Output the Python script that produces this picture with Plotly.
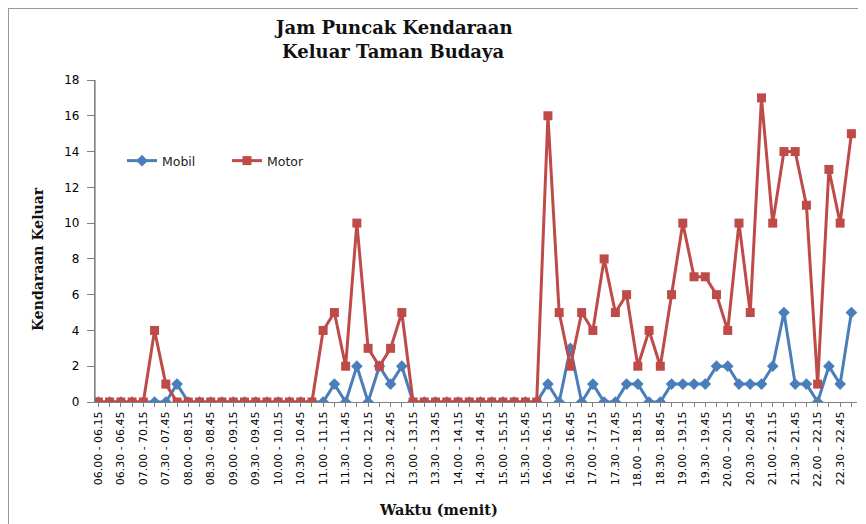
import plotly.graph_objects as go

# 15-minute intervals 06.00 - 23.00
starts = []
for h in range(6, 23):
    for m in (0, 15, 30, 45):
        starts.append((h, m))

def fmt(h, m):
    return f"{h:02d}.{m:02d}"

categories = []
for h, m in starts:
    m2 = m + 15
    h2 = h
    if m2 == 60:
        h2, m2 = h + 1, 0
    categories.append(f"{fmt(h, m)} - {fmt(h2, m2)}")

# tick labels as printed on the original (every other interval)
tick_labels = [
    "06.00 - 06.15", "06.30 - 06.45", "07.00 - 70.15", "07.30 - 07.45",
    "08.00 - 08.15", "08.30 - 08.45", "09.00 - 09.15", "09.30 - 09.45",
    "10.00 - 10.15", "10.30 - 10.45", "11.00 - 11.15", "11.30 - 11.45",
    "12.00 - 12.15", "12.30 - 12.45", "13.00 - 13.15", "13.30 - 13.45",
    "14.00 - 14.15", "14.30 - 14.45", "15.00 - 15.15", "15.30 - 15.45",
    "16.00 - 16.15", "16.30 - 16.45", "17.00 - 17.15", "17.30 - 17.45",
    "18.00 \u2013 18.15", "18.30 - 18.45", "19.00 - 19.15", "19.30 - 19.45",
    "20.00 \u2013 20.15", "20.30 - 20.45", "21.00 - 21.15", "21.30 - 21.45",
    "22.00 \u2013 22.15", "22.30 - 22.45",
]

mobil = [0, 0, 0, 0, 0, 0, 0, 1, 0, 0, 0, 0, 0, 0, 0, 0, 0, 0, 0, 0,
         0, 1, 0, 2, 0, 2, 1, 2, 0, 0, 0, 0, 0, 0, 0, 0, 0, 0, 0, 0,
         1, 0, 3, 0, 1, 0, 0, 1, 1, 0, 0, 1, 1, 1, 1, 2, 2, 1, 1, 1,
         2, 5, 1, 1, 0, 2, 1, 5]

motor = [0, 0, 0, 0, 0, 4, 1, 0, 0, 0, 0, 0, 0, 0, 0, 0, 0, 0, 0, 0,
         4, 5, 2, 10, 3, 2, 3, 5, 0, 0, 0, 0, 0, 0, 0, 0, 0, 0, 0, 0,
         16, 5, 2, 5, 4, 8, 5, 6, 2, 4, 2, 6, 10, 7, 7, 6, 4, 10, 5, 17,
         10, 14, 14, 11, 1, 13, 10, 15]

y_ticks = list(range(0, 19, 2))

tickvals = categories
ticktext = []
for i in range(len(categories)):
    ticktext.append(tick_labels[i // 2] if i % 2 == 0 else "")

fig = go.Figure()
fig.add_trace(go.Scatter(
    x=categories, y=mobil, name="Mobil", mode="lines+markers",
    line=dict(color="#4A7EBB", width=3),
    marker=dict(symbol="diamond", size=9, color="#4A7EBB"),
))
fig.add_trace(go.Scatter(
    x=categories, y=motor, name="Motor", mode="lines+markers",
    line=dict(color="#BE4B48", width=3),
    marker=dict(symbol="square", size=9, color="#BE4B48"),
))

# page body has an 8px margin; work in screen coordinates
OFF = 8
SW, SH = 866, 524
PL, PR, PT, PB = 95, 857, 80, 402  # plot area in screen px
W, H = SW - OFF, SH - OFF
L, T = PL - OFF, PT - OFF
R = W - (PR - OFF)
B = H - (PB - OFF)
pw, ph = PR - PL, PB - PT

def px(x):
    return (x - PL) / pw

def py(y):
    return (PB - y) / ph

serif = "DejaVu Serif"
sans = "DejaVu Sans"

fig.update_layout(
    width=W, height=H,
    margin=dict(l=L, r=R, t=T, b=B, autoexpand=False),
    paper_bgcolor="white", plot_bgcolor="white",
    showlegend=True,
    legend=dict(
        orientation="h", x=px(122), y=py(161), xanchor="left", yanchor="middle",
        font=dict(family=sans, size=12.5, color="#222"),
        bgcolor="rgba(0,0,0,0)", entrywidth=60, entrywidthmode="pixels",
        tracegroupgap=0,
    ),
    xaxis=dict(
        type="category", categoryorder="array", categoryarray=categories,
        range=[-0.3, 67.5],
        tickvals=tickvals, ticktext=ticktext, tickangle=-90,
        tickfont=dict(family=sans, size=11, color="#000"),
        showgrid=False, zeroline=False,
        showline=True, linecolor="#808080", linewidth=1,
        ticks="outside", ticklen=4, tickcolor="#808080",
    ),
    yaxis=dict(
        range=[0, 18], tickvals=y_ticks,
        tickfont=dict(family=sans, size=12, color="#000"),
        showgrid=False, zeroline=False,
        showline=True, linecolor="#808080", linewidth=1.3,
        ticks="outside", ticklen=7, tickcolor="#808080",
        ticklabelstandoff=5,
    ),
    annotations=[
        dict(text="<b>Jam Puncak Kendaraan</b>",
             xref="paper", yref="paper", x=px(393), y=py(28),
             xanchor="center", yanchor="middle", showarrow=False,
             font=dict(family=serif, size=18, color="#111")),
        dict(text="<b>Keluar Taman Budaya</b>",
             xref="paper", yref="paper", x=px(393), y=py(51),
             xanchor="center", yanchor="middle", showarrow=False,
             font=dict(family=serif, size=18, color="#111")),
        dict(text="<b>Kendaraan Keluar</b>", textangle=-90,
             xref="paper", yref="paper", x=px(38), y=py(259),
             xanchor="center", yanchor="middle", showarrow=False,
             font=dict(family=serif, size=14, color="#111")),
        dict(text="<b>Waktu (menit)</b>",
             xref="paper", yref="paper", x=px(438), y=py(509),
             xanchor="center", yanchor="middle", showarrow=False,
             font=dict(family=serif, size=14.5, color="#111")),
    ],
    shapes=[
        dict(type="line", xref="paper", yref="paper",
             x0=px(8), x1=px(870), y0=py(8), y1=py(8),
             line=dict(color="#999999", width=2)),
        dict(type="line", xref="paper", yref="paper",
             x0=px(8), x1=px(8), y0=py(8), y1=py(530),
             line=dict(color="#999999", width=2)),
        dict(type="line", xref="paper", yref="paper", layer="below",
             x0=0, x1=0, y0=0, y1=1,
             line=dict(color="#808080", width=1.3)),
    ],
)

fig.write_html("out.html")
